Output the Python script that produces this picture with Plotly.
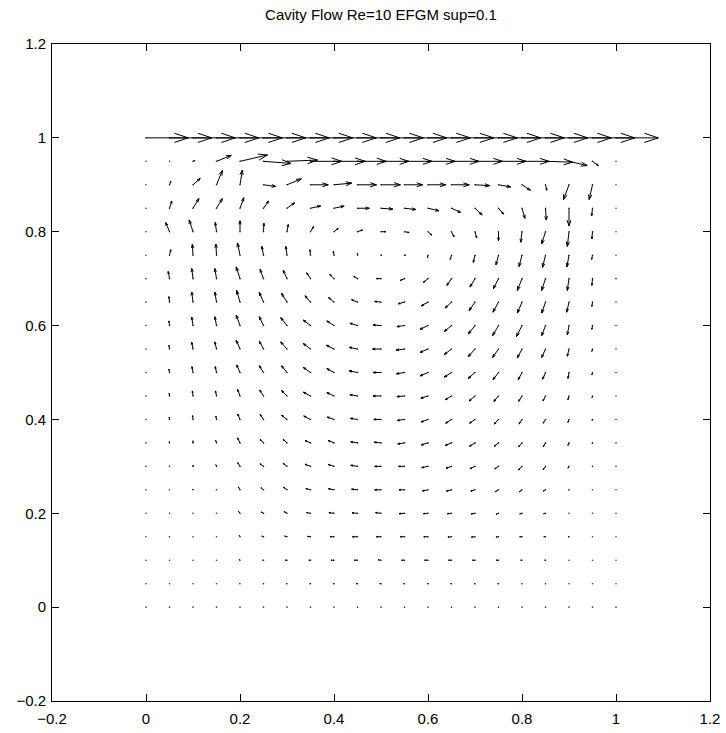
import numpy as np
import plotly.graph_objects as go

# Grid (21 x 21 nodes, spacing 0.05); rows listed from top (y=1) to bottom (y=0)
x_nodes = [round(0.05 * i, 2) for i in range(21)]
y_rows = [round(1 - 0.05 * k, 2) for k in range(21)]

U = [
    [1.0] * 21,
    [0, 0, 0.05, 0.35, 0.65, 0.65, 0.72, 0.74, 0.74, 0.68, 0.66, 0.65, 0.64, 0.65, 0.65, 0.65, 0.64, 0.64, 0.43, 0.14, 0],
    [0, 0.03, 0.17, 0.14, 0.055, 0.29, 0.34, 0.42, 0.42, 0.45, 0.46, 0.43, 0.42, 0.42, 0.35, 0.29, 0.2, 0.03, -0.13, -0.08, 0],
    [0, 0.055, 0.14, 0.14, 0.09, 0.12, 0.18, 0.24, 0.24, 0.28, 0.28, 0.27, 0.26, 0.22, 0.17, 0.12, 0.07, 0.02, 0, -0.02, 0],
    [0, -0.09, -0.09, -0.03, 0, 0.01, 0.03, 0.07, 0.1, 0.12, 0.11, 0.11, 0.09, 0.06, 0.04, 0, -0.03, -0.09, -0.04, -0.015, 0],
    [0, 0.03, -0.015, -0.015, -0.06, -0.04, -0.03, -0.015, -0.015, 0, 0.02, 0.03, -0.01, -0.03, -0.04, -0.06, -0.07, -0.07, -0.05, -0.02, 0],
    [0, -0.03, -0.03, -0.04, -0.09, -0.08, -0.09, -0.09, -0.1, -0.09, -0.11, -0.1, -0.11, -0.11, -0.12, -0.12, -0.11, -0.09, -0.04, -0.015, 0],
    [0, -0.015, -0.03, -0.04, -0.08, -0.1, -0.13, -0.13, -0.13, -0.14, -0.15, -0.15, -0.16, -0.15, -0.14, -0.13, -0.11, -0.09, -0.055, -0.015, 0],
    [0, -0.015, -0.03, -0.04, -0.09, -0.1, -0.15, -0.17, -0.17, -0.18, -0.19, -0.18, -0.19, -0.17, -0.16, -0.14, -0.13, -0.09, -0.04, -0.015, 0],
    [0, -0.015, -0.03, -0.04, -0.09, -0.1, -0.15, -0.17, -0.18, -0.2, -0.2, -0.2, -0.19, -0.17, -0.16, -0.14, -0.11, -0.09, -0.04, -0.015, 0],
    [0, -0.015, -0.025, -0.03, -0.08, -0.1, -0.13, -0.17, -0.17, -0.2, -0.19, -0.19, -0.19, -0.17, -0.16, -0.13, -0.09, -0.07, -0.025, -0.015, 0],
    [0, -0.01, -0.015, -0.025, -0.06, -0.09, -0.13, -0.17, -0.17, -0.18, -0.19, -0.18, -0.17, -0.15, -0.14, -0.11, -0.08, -0.06, -0.025, -0.01, 0],
    [0, -0.01, -0.01, -0.015, -0.055, -0.08, -0.13, -0.16, -0.16, -0.17, -0.17, -0.17, -0.16, -0.14, -0.13, -0.1, -0.07, -0.055, -0.025, -0.01, 0],
    [0, -0.005, 0, -0.02, -0.06, -0.08, -0.09, -0.13, -0.14, -0.16, -0.16, -0.16, -0.16, -0.15, -0.13, -0.1, -0.08, -0.055, -0.025, -0.005, 0],
    [0, 0, 0, -0.015, -0.055, -0.08, -0.09, -0.13, -0.14, -0.16, -0.15, -0.14, -0.15, -0.13, -0.12, -0.09, -0.08, -0.055, -0.025, -0.005, 0],
    [0, 0, 0, -0.005, -0.04, -0.06, -0.08, -0.11, -0.13, -0.14, -0.15, -0.13, -0.13, -0.12, -0.1, -0.08, -0.06, -0.055, -0.01, 0, 0],
    [0, 0, 0, 0, -0.04, -0.055, -0.07, -0.09, -0.12, -0.13, -0.13, -0.13, -0.11, -0.1, -0.09, -0.06, -0.055, -0.045, 0, 0, 0],
    [0, -0.005, 0, 0, -0.015, -0.04, -0.055, -0.07, -0.09, -0.12, -0.11, -0.1, -0.1, -0.085, -0.085, -0.06, -0.055, -0.04, -0.02, 0, 0],
    [0, 0, 0, 0, -0.02, -0.02, -0.04, -0.04, -0.07, -0.08, -0.07, -0.07, -0.08, -0.07, -0.06, -0.055, -0.03, -0.02, 0, 0, 0],
    [0, 0, 0, 0, -0.01, -0.01, -0.015, -0.02, -0.02, -0.03, -0.03, -0.02, -0.02, -0.02, -0.02, -0.02, -0.01, -0.005, 0, 0, 0],
    [0] * 21,
]

V = [
    [0.0] * 21,
    [0, 0, 0.02, 0.14, 0.15, -0.05, 0.03, 0, 0, 0, 0, 0, 0, 0, 0, 0, 0, -0.02, -0.1, -0.1, 0],
    [0, 0.08, 0.15, 0.34, 0.35, -0.04, 0.14, 0, 0.04, 0, 0, 0, 0, 0, -0.02, -0.05, -0.13, -0.13, -0.35, -0.35, 0],
    [0, 0.17, 0.23, 0.23, 0.25, 0.17, 0.13, 0.055, 0.05, 0, -0.02, -0.03, -0.06, -0.1, -0.16, -0.14, -0.24, -0.28, -0.42, -0.18, 0],
    [0, 0.22, 0.28, 0.22, 0.26, 0.2, 0.17, 0.12, 0.08, 0.04, 0, -0.02, -0.08, -0.12, -0.15, -0.21, -0.25, -0.29, -0.35, -0.17, 0],
    [0, 0.13, 0.26, 0.26, 0.29, 0.21, 0.21, 0.13, 0.09, 0.05, 0, 0, -0.06, -0.1, -0.17, -0.23, -0.27, -0.29, -0.28, -0.1, 0],
    [0, 0.17, 0.24, 0.24, 0.28, 0.22, 0.2, 0.14, 0.1, 0.055, 0, -0.04, -0.09, -0.16, -0.2, -0.24, -0.28, -0.28, -0.28, -0.16, 0],
    [0, 0.13, 0.24, 0.24, 0.28, 0.23, 0.21, 0.15, 0.11, 0.055, 0.015, -0.04, -0.09, -0.14, -0.2, -0.24, -0.26, -0.26, -0.24, -0.1, 0],
    [0, 0.11, 0.2, 0.21, 0.25, 0.21, 0.19, 0.13, 0.11, 0.055, 0.015, -0.025, -0.09, -0.14, -0.2, -0.24, -0.26, -0.24, -0.22, -0.09, 0],
    [0, 0.09, 0.16, 0.17, 0.21, 0.19, 0.17, 0.13, 0.09, 0.04, 0, -0.025, -0.08, -0.13, -0.18, -0.2, -0.21, -0.2, -0.17, -0.055, 0],
    [0, 0.08, 0.14, 0.14, 0.18, 0.16, 0.16, 0.12, 0.09, 0.04, 0, -0.03, -0.08, -0.11, -0.14, -0.17, -0.17, -0.16, -0.14, -0.055, 0],
    [0, 0.06, 0.12, 0.12, 0.16, 0.14, 0.13, 0.09, 0.08, 0.03, 0, -0.015, -0.055, -0.09, -0.12, -0.13, -0.13, -0.12, -0.09, -0.04, 0],
    [0, 0.05, 0.09, 0.08, 0.13, 0.12, 0.1, 0.08, 0.055, 0.025, 0, -0.025, -0.06, -0.09, -0.09, -0.11, -0.11, -0.09, -0.07, -0.025, 0],
    [0, 0.03, 0.05, 0.06, 0.12, 0.08, 0.08, 0.055, 0.055, 0.025, 0.015, -0.025, -0.05, -0.06, -0.08, -0.08, -0.09, -0.09, -0.06, -0.02, 0],
    [0, 0.01, 0.03, 0.04, 0.09, 0.06, 0.07, 0.05, 0.045, 0.025, 0, 0, -0.03, -0.045, -0.055, -0.06, -0.08, -0.08, -0.045, -0.01, 0],
    [0, 0, 0.02, 0.01, 0.07, 0.05, 0.06, 0.03, 0.025, 0.015, 0, 0, -0.025, -0.03, -0.03, -0.045, -0.045, -0.03, -0.01, 0, 0],
    [0, 0, 0, 0, 0.05, 0.03, 0.04, 0.015, 0.015, 0.01, 0.015, -0.01, -0.01, -0.01, -0.015, -0.025, -0.015, -0.01, 0, 0, 0],
    [0, 0, 0, 0, 0.03, 0.015, 0.015, 0.008, 0, 0, 0, 0, 0, -0.008, -0.008, -0.008, 0, 0, 0, 0, 0],
    [0, 0, 0, 0, 0.015, 0, 0, 0, 0, 0, 0.01, 0, 0, 0, 0, 0, 0, 0, 0, 0, 0],
    [0] * 21,
    [0] * 21,
]

tick_vals = [-0.2, 0, 0.2, 0.4, 0.6, 0.8, 1, 1.2]
title_text = "Cavity Flow Re=10 EFGM sup=0.1"

# ---- MATLAB-style quiver geometry ----
SCALE = 0.09
ALPHA, BETA, EPS = 0.33, 0.33, 2.2e-16

X, Y = np.meshgrid(np.array(x_nodes), np.array(y_rows))
u = np.array(U, dtype=float) * SCALE
v = np.array(V, dtype=float) * SCALE

lx, ly = [], []
for xx, yy, uu, vv in zip(X.ravel(), Y.ravel(), u.ravel(), v.ravel()):
    if uu == 0 and vv == 0:
        continue
    tx, ty = xx + uu, yy + vv
    lx += [xx, tx, None]
    ly += [yy, ty, None]
    h1x = tx - ALPHA * (uu + BETA * (vv + EPS))
    h1y = ty - ALPHA * (vv - BETA * (uu + EPS))
    h2x = tx - ALPHA * (uu - BETA * (vv + EPS))
    h2y = ty - ALPHA * (vv + BETA * (uu + EPS))
    lx += [h1x, tx, h2x, None]
    ly += [h1y, ty, h2y, None]

fig = go.Figure()
fig.add_trace(go.Scatter(
    x=X.ravel(), y=Y.ravel(), mode="markers",
    marker=dict(size=1.6, color="#333333", line=dict(width=0)),
    hoverinfo="skip", showlegend=False,
))
fig.add_trace(go.Scatter(
    x=lx, y=ly, mode="lines",
    line=dict(color="black", width=1),
    hoverinfo="skip", showlegend=False,
))

FONT = "Liberation Sans, Arial, sans-serif"
axis_common = dict(
    range=[-0.2, 1.2], tickvals=tick_vals,
    showgrid=False, zeroline=False, automargin=False,
    showline=True, linecolor="black", linewidth=1,
    mirror="ticks", ticks="inside", ticklen=7, tickcolor="black", tickwidth=1,
    tickfont=dict(family=FONT, size=15, color="black"),
)

fig.update_layout(
    width=726, height=733,
    margin=dict(l=52, r=16, t=44, b=32),
    paper_bgcolor="white", plot_bgcolor="white",
    title=dict(text=title_text, x=(52 + 329) / 726, xanchor="center",
               y=1 - 15 / 733, yanchor="middle", yref="container",
               font=dict(family=FONT, size=15, color="black")),
    xaxis=dict(axis_common, ticklabelstandoff=4),
    yaxis=dict(axis_common, ticklabelstandoff=2),
)

fig.write_html("out.html")
